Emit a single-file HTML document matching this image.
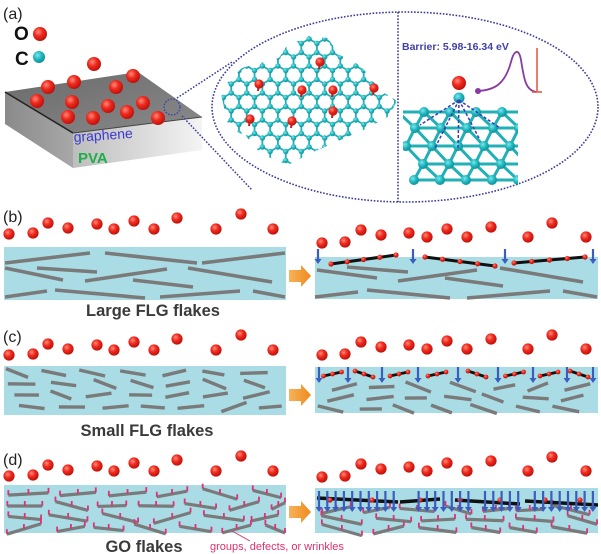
<!DOCTYPE html>
<html><head><meta charset="utf-8"><style>
html,body{margin:0;padding:0;background:#fff;}
svg{display:block;}
text{font-family:"Liberation Sans",Arial,sans-serif;}
</style></head><body>
<svg id="s" width="601" height="554" viewBox="0 0 601 554" xmlns="http://www.w3.org/2000/svg">
<defs>
<radialGradient id="rd" cx="0.38" cy="0.35" r="0.7"><stop offset="0" stop-color="#ff8a7a"/><stop offset="0.45" stop-color="#ee2a1e"/><stop offset="1" stop-color="#b80d08"/></radialGradient>
<radialGradient id="cy" cx="0.38" cy="0.35" r="0.7"><stop offset="0" stop-color="#7fe6ea"/><stop offset="0.5" stop-color="#1fb8c0"/><stop offset="1" stop-color="#0e8a92"/></radialGradient>
<linearGradient id="front" x1="0" y1="0" x2="1" y2="0"><stop offset="0" stop-color="#bdbdbd"/><stop offset="1" stop-color="#f4f4f4"/></linearGradient>
<linearGradient id="side" x1="0" y1="0" x2="1" y2="0"><stop offset="0" stop-color="#8a8a8a"/><stop offset="1" stop-color="#a8a8a8"/></linearGradient>
<linearGradient id="top" x1="0" y1="0" x2="1" y2="1"><stop offset="0" stop-color="#6a6a6a"/><stop offset="1" stop-color="#8a8a8a"/></linearGradient>
<linearGradient id="arr" x1="0" y1="0" x2="1" y2="0"><stop offset="0" stop-color="#f7b25a"/><stop offset="1" stop-color="#ee8a1c"/></linearGradient>
<clipPath id="latclip"><polygon points="308,36 328,38 338,54 361,66 381,91 397,101 389,116 368,128 338,141 311,153 288,165 261,154 246,136 229,128 220,90 242,68 279,58 286,47"/></clipPath>
<clipPath id="rlclip"><rect x="403" y="100" width="115" height="85"/></clipPath>
</defs>

<text x="3" y="19" font-size="16" fill="#222">(a)</text>
<text x="14" y="40" font-size="19" font-weight="bold" fill="#111">O</text>
<text x="15" y="65" font-size="19" font-weight="bold" fill="#111">C</text>

<polygon points="5,92 73,133 73,168 5,124" fill="url(#side)"/>
<polygon points="73,133 202,117 202,150 73,168" fill="url(#front)"/>
<polygon points="5,92 138,72 202,117 73,133" fill="url(#top)"/>
<line x1="5" y1="92" x2="73" y2="133" stroke="#222" stroke-width="1.5"/>
<line x1="73" y1="133" x2="202" y2="117" stroke="#444" stroke-width="1"/>
<text x="74" y="142" font-size="14" fill="#3a3ad0" transform="rotate(-4 74 142)">graphene</text>
<text x="78" y="163" font-size="15" font-weight="bold" fill="#1fae4a">PVA</text>
<circle cx="172" cy="107" r="8" fill="none" stroke="#3a3ab8" stroke-width="1.3" stroke-dasharray="1.5,1.5"/>

<ellipse cx="405" cy="107" rx="193" ry="95" fill="none" stroke="#3a3a9a" stroke-width="1.6" stroke-dasharray="1.6,1.6"/>
<line x1="398" y1="12" x2="398" y2="202" stroke="#3a3a9a" stroke-width="1.6" stroke-dasharray="1.6,1.6"/>
<line x1="177" y1="98" x2="232" y2="62" stroke="#3a3a9a" stroke-width="1.5" stroke-dasharray="1.6,1.6"/>
<line x1="182" y1="116" x2="252" y2="190" stroke="#3a3a9a" stroke-width="1.5" stroke-dasharray="1.6,1.6"/>

<g id="lat" clip-path="url(#latclip)"></g>
<g id="latO"></g>
<g id="rlat"></g>

<text x="402" y="50" font-size="10.5" font-weight="bold" fill="#4040a8">Barrier: 5.98-16.34 eV</text>
<path d="M478,91 C495,90 505,84 511,62 C514,50 519,48 521,60 C524,78 525,90 536,92" fill="none" stroke="#8a3aa0" stroke-width="1.8"/>
<circle cx="478" cy="91" r="3" fill="#8a3aa0"/>
<line x1="537" y1="48" x2="537" y2="92" stroke="#e8503a" stroke-width="1.5"/>
<line x1="532" y1="92" x2="542" y2="92" stroke="#e8503a" stroke-width="1.5"/>

<g id="main"></g>

<text x="3" y="222" font-size="16" fill="#222">(b)</text>
<text x="153" y="316" font-size="16.5" font-weight="bold" fill="#3a3a3a" text-anchor="middle">Large FLG flakes</text>
<text x="3" y="342" font-size="16" fill="#222">(c)</text>
<text x="147" y="436" font-size="16.5" font-weight="bold" fill="#3a3a3a" text-anchor="middle">Small FLG flakes</text>
<text x="3" y="465" font-size="16" fill="#222">(d)</text>
<text x="144" y="552" font-size="16.5" font-weight="bold" fill="#3a3a3a" text-anchor="middle">GO flakes</text>
<text x="210" y="550" font-size="11" fill="#e0306a">groups, defects, or wrinkles</text>
<line x1="250" y1="541" x2="232" y2="531" stroke="#e0306a" stroke-width="1"/>
</svg>
<script>
var NS="http://www.w3.org/2000/svg";
function el(p,t,a){var e=document.createElementNS(NS,t);for(var k in a)e.setAttribute(k,a[k]);p.appendChild(e);return e;}
var main=document.getElementById('main');
var svg=document.getElementById('s');
function ball(p,x,y,r,c){el(p,'circle',{cx:x,cy:y,r:r,fill:c=='r'?'url(#rd)':'url(#cy)'});}
ball(svg,40,34,7,'r');ball(svg,39,57,6,'c');
[[94,64],[48,87],[74,82],[133,76],[116,87],[37,101],[72,102],[108,106],[143,103],[68,117],[93,118],[127,112],[158,118]].forEach(function(b){ball(svg,b[0],b[1],7,'r');});
var lat=document.getElementById('lat');var a=9,s3=Math.sqrt(3);var pts=[];
for(var i=-20;i<30;i++)for(var j=-5;j<25;j++){var x=200+i*s3*a+(j%2)*s3*a/2,y=30+j*1.5*a;pts.push([x,y]);pts.push([x,y+a]);}
pts=pts.filter(function(p){return p[0]>210&&p[0]<405&&p[1]>28&&p[1]<175;});
for(var m=0;m<pts.length;m++)for(var n=m+1;n<pts.length;n++){var dx=pts[m][0]-pts[n][0],dy=pts[m][1]-pts[n][1];if(Math.abs(Math.hypot(dx,dy)-a)<0.5)el(lat,'line',{x1:pts[m][0],y1:pts[m][1],x2:pts[n][0],y2:pts[n][1],stroke:'#20b0b5','stroke-width':1.8});}
pts.forEach(function(p){ball(lat,p[0],p[1],2.7,'c');});
var lo=document.getElementById('latO');
[[259,84],[320,62],[302,90],[333,90],[374,88],[333,111],[250,119],[292,121]].forEach(function(b){el(lo,'line',{x1:b[0],y1:b[1],x2:b[0]-1,y2:b[1]+7,stroke:'#c02020','stroke-width':2});ball(lo,b[0],b[1],4.6,'r');});
var rl=document.getElementById('rlat');var g=el(rl,'g',{'clip-path':'url(#rlclip)'});
var rows=[[112,0],[128,13],[146,0],[164,13],[180,0]];var ra=[];
rows.forEach(function(r,ri){for(var k=0;k<6;k++){ra.push([398+r[1]+k*26+ri*4,r[0]]);}});
for(var m=0;m<ra.length;m++)for(var n=0;n<ra.length;n++){var dx=ra[n][0]-ra[m][0],dy=ra[n][1]-ra[m][1];if((Math.abs(dy)<1&&Math.abs(dx-26)<1)||(dy>10&&dy<20&&Math.abs(dx)<20))el(g,'line',{x1:ra[m][0],y1:ra[m][1],x2:ra[n][0],y2:ra[n][1],stroke:'#20b0b5','stroke-width':3});}
ra.forEach(function(p){ball(g,p[0],p[1],5,'c');});
ball(rl,459,98,5.5,'c');
[[420,125],[435,148],[458,150],[480,140],[500,128]].forEach(function(t){el(rl,'line',{x1:459,y1:100,x2:t[0],y2:t[1],stroke:'#3a3ab8','stroke-width':1.5,'stroke-dasharray':'3,2'});});
ball(rl,459,83,7,'r');

function slab(x,y,w,h){el(main,'rect',{x:x,y:y,width:w,height:h,fill:'#a9dce4'});}
function fl(x1,y1,x2,y2,c,w){el(main,'line',{x1:x1,y1:y1,x2:x2,y2:y2,stroke:c||'#7a7a7a','stroke-width':w||3.6});}
function arrow(x,y){el(main,'polygon',{points:(x)+','+(y-6)+' '+(x+12)+','+(y-6)+' '+(x+12)+','+(y-11)+' '+(x+22)+','+y+' '+(x+12)+','+(y+11)+' '+(x+12)+','+(y+6)+' '+x+','+(y+6),fill:'url(#arr)'});}
function darr(x,y1,y2){el(main,'line',{x1:x,y1:y1,x2:x,y2:y2-4,stroke:'#3a5ec0','stroke-width':2.2});el(main,'polygon',{points:(x-3.5)+','+(y2-5)+' '+(x+3.5)+','+(y2-5)+' '+x+','+y2,fill:'#3a5ec0'});}
var lb=[[9,234],[33,233],[48,223],[68,228],[97,224],[114,229],[134,221],[154,229],[177,218],[216,229],[241,214],[273,229]];
var rb=[[322,243],[345,242],[361,230],[381,235],[409,233],[427,237],[447,229],[467,237],[491,227],[528,237],[552,223],[586,237]];
[0,121,242].forEach(function(o){lb.forEach(function(b){ball(main,b[0],b[1]+o,5.6,'r');});});
[0,112,234].forEach(function(o){rb.forEach(function(b){ball(main,b[0],b[1]+o,5.6,'r');});});
slab(4,247,282,53);slab(315,257,283,42);
[[5,263,90,253],[105,253,197,263],[202,263,285,253],[5,268,63,280],[37,268,97,272],[85,281,167,269],[188,268,272,282],[133,280,193,287],[5,297,47,291],[55,290,145,298],[160,297,240,291],[253,291,285,297]].forEach(function(f){fl.apply(null,f);});
[[317,270,377,278],[347,267,408,272],[398,281,477,270],[445,278,503,286],[500,268,583,282],[315,297,358,292],[367,290,450,298],[467,298,550,291],[563,291,597,297]].forEach(function(f){fl.apply(null,f);});
[[331,264,396,255],[425,257,495,266],[514,263,585,257]].forEach(function(f){fl(f[0],f[1],f[2],f[3],'#111',3);for(var t=0;t<=4;t++){ball(main,f[0]+(f[2]-f[0])*t/4,f[1]+(f[3]-f[1])*t/4,2.6,'r');}});
[318,413,505,593].forEach(function(x){darr(x,249,264);});
arrow(289,276);
var seed=7;function rnd(){seed=(seed*16807)%2147483647;return seed/2147483647;}
function small(x0,x1,ys,len){ys.forEach(function(y,ri){var x=x0+rnd()*15;while(x<x1-8){var an=(rnd()-0.5)*0.9;var L=len+rnd()*6;var dx=Math.cos(an)*L,dy=Math.sin(an)*L;var xe=Math.min(x+dx,x1);fl(x,y-dy/2,xe,y+dy/2,'#7a7a7a',3.4);x+=L+10+rnd()*8;}});}
slab(4,366,282,49);slab(315,367,283,46);
small(6,285,[373,384,395,407],22);
small(317,597,[387,398,409],22);
arrow(289,395);
var cx=[319,348,382,418,458,498,533,567,593];
for(var k=0;k<cx.length-1;k++){var xa=cx[k]+6,xb=cx[k+1]-8,m=(xa+xb)/2;var x1=m-9,x2=m+9,tl=(k%3==1)?3:-2;fl(x1,374-tl,x2,374+tl,'#111',2.8);ball(main,x1,374-tl,2.4,'r');ball(main,m,374,2.4,'r');ball(main,x2,374+tl,2.4,'r');}
cx.forEach(function(x){darr(x,367,383);});
slab(4,485,282,48);slab(315,488,283,45);
function go(x0,x1,ys){ys.forEach(function(y){var x=x0+rnd()*10;while(x<x1-10){var an=(rnd()-0.5)*0.6;var L=26+rnd()*16;var dx=Math.cos(an)*L,dy=Math.sin(an)*L;var xe=Math.min(x+dx,x1);var ya=y-dy/2,yb=y+dy/2;fl(x,ya,xe,yb,'#7a7a7a',3.2);for(var t=0;t<=2;t++){var px=x+(xe-x)*t/2,py=ya+(yb-ya)*t/2;el(main,'line',{x1:px,y1:py,x2:px,y2:py-5,stroke:'#e0307a','stroke-width':1.8});}x+=L+7+rnd()*8;}});}
go(6,285,[494,506,518,529]);
go(317,597,[510,520,530]);
arrow(289,512);
fl(317,498,398,502,'#111',3.5);fl(400,502,440,499,'#111',3.5);fl(455,500,520,504,'#111',3.5);fl(525,501,598,505,'#111',3.5);
[330,372,420,460,500,545,580].forEach(function(x){ball(main,x,500,2.6,'r');});
for(var x=319;x<598;x+=8.3){if((x>400&&x<418)||(x>470&&x<480)||(x>520&&x<528))continue;darr(x,491,512);}
</script>
</body></html>
